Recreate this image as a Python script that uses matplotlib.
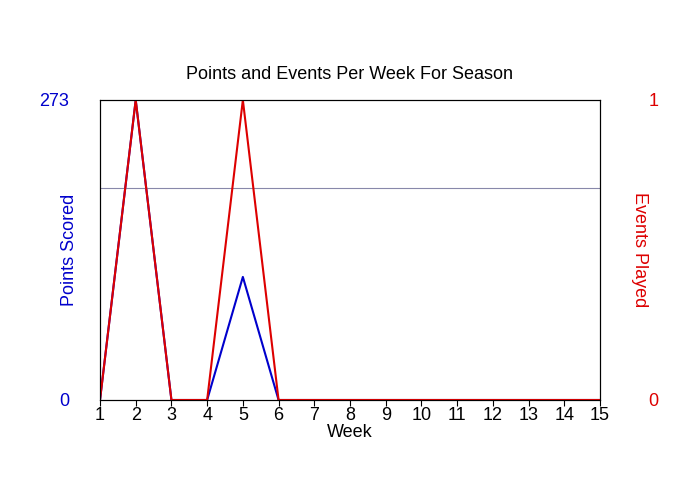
import matplotlib
matplotlib.use("Agg")
import matplotlib.pyplot as plt

plt.rcParams['font.family'] = ['Liberation Sans', 'DejaVu Sans']

weeks = list(range(1, 16))
points = [0, 273, 0, 0, 112, 0, 0, 0, 0, 0, 0, 0, 0, 0, 0]
events = [0, 1, 0, 0, 1, 0, 0, 0, 0, 0, 0, 0, 0, 0, 0]
ref_level = 193

fig = plt.figure(figsize=(7, 5), dpi=100)
ax = fig.add_axes([100/700, 100/500, 500/700, 300/500])
ax.plot(weeks, points, color="#0000cc", lw=1.5)
ax.axhline(ref_level, color="#8888aa", lw=0.8)
ax.set_xlim(1, 15)
ax.set_ylim(0, 273)
ax.set_xticks(weeks)
ax.set_yticks([0, 273])
ax.tick_params(axis='y', colors="#0000cc", labelsize=13, length=0, pad=22)
ax.tick_params(axis='x', labelsize=13, length=4, pad=1)
ax.set_ylabel("Points Scored", color="#0000cc", fontsize=13, labelpad=-28)
ax.set_xlabel("Week", fontsize=13, labelpad=0)
ax.set_title("Points and Events Per Week For Season", fontsize=13, pad=15)

ax2 = ax.twinx()
ax2.plot(weeks, events, color="#dd0000", lw=1.5)
ax2.set_ylim(0, 1)
ax2.set_yticks([0, 1])
ax2.tick_params(axis='y', colors="#dd0000", labelsize=13, length=0, pad=35)
ax2.set_ylabel("Events Played", color="#dd0000", fontsize=13, rotation=270, labelpad=-8)

fig.savefig("out.png")
